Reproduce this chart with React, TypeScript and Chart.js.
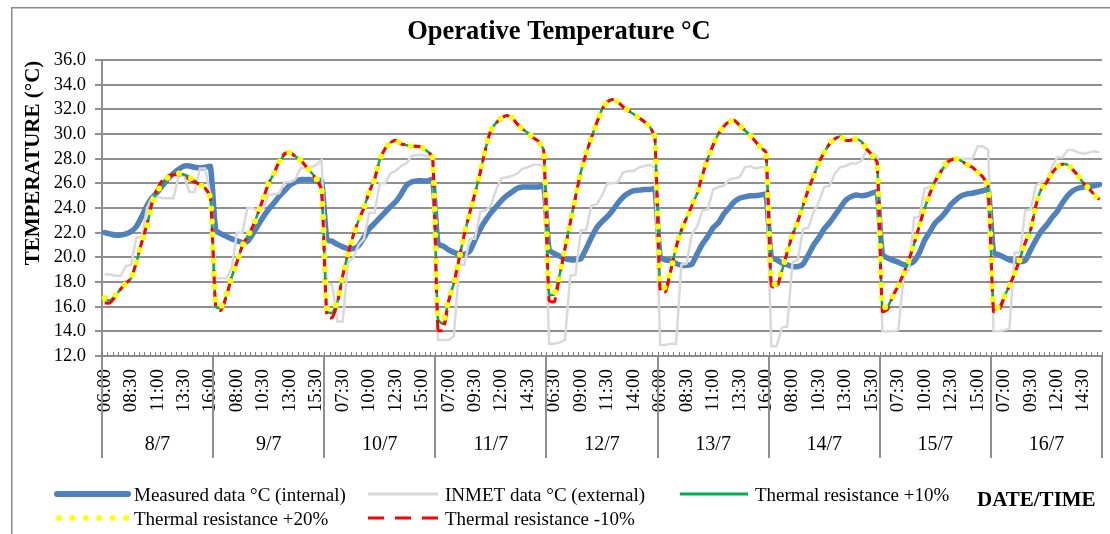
import React, { useEffect, useRef } from 'react';
import { Chart, registerables } from 'chart.js';

Chart.register(...registerables);

const DAYS = ['8/7', '9/7', '10/7', '11/7', '12/7', '13/7', '14/7', '15/7', '16/7'];
const TIMES = ['06:00', '06:30', '07:00', '07:30', '08:00', '08:30', '09:00', '09:30', '10:00', '10:30', '11:00',
  '11:30', '12:00', '12:30', '13:00', '13:30', '14:00', '14:30', '15:00', '15:30', '16:00'];
const Y_TICKS = [12, 14, 16, 18, 20, 22, 24, 26, 28, 30, 32, 34, 36];

const MEASURED = [
  22.0, 21.9, 21.8, 21.8, 21.9, 22.1, 22.5, 23.3, 24.2, 24.85, 25.3, 25.85, 26.4, 26.8, 27.15, 27.4, 27.4, 27.3, 27.25, 27.3, 27.35,
  22.2, 21.9, 21.7, 21.5, 21.35, 21.2, 21.3, 21.9, 22.6, 23.3, 23.9, 24.4, 24.95, 25.4, 25.85, 26.1, 26.3, 26.3, 26.3, 26.2, 26.2,
  21.45, 21.3, 21.05, 20.85, 20.7, 20.7, 20.95, 21.6, 22.3, 22.75, 23.2, 23.65, 24.1, 24.5, 25.1, 25.8, 26.1, 26.2, 26.2, 26.2, 26.3,
  21.1, 20.9, 20.6, 20.4, 20.25, 20.25, 20.5, 21.4, 22.3, 23.0, 23.6, 24.1, 24.6, 25.0, 25.3, 25.6, 25.7, 25.7, 25.7, 25.7, 25.8,
  20.6, 20.3, 20.1, 19.9, 19.8, 19.8, 19.9, 20.7, 21.6, 22.4, 22.9, 23.3, 23.8, 24.4, 24.9, 25.2, 25.4, 25.45, 25.5, 25.5, 25.55,
  20.0, 19.8, 19.7, 19.5, 19.35, 19.35, 19.45, 20.3, 21.1, 21.7, 22.4, 22.8, 23.5, 24.0, 24.5, 24.8, 24.9, 25.0, 25.0, 25.05, 25.1,
  20.0, 19.8, 19.55, 19.4, 19.25, 19.25, 19.45, 20.2, 21.0, 21.6, 22.3, 22.8, 23.4, 24.0, 24.6, 24.9, 25.05, 25.0, 25.05, 25.2, 25.3,
  20.2, 19.95, 19.75, 19.6, 19.4, 19.45, 19.7, 20.4, 21.4, 22.1, 22.8, 23.2, 23.7, 24.3, 24.7, 25.0, 25.15, 25.2, 25.3, 25.4, 25.5,
  20.4, 20.2, 20.0, 19.8, 19.7, 19.65, 19.75, 20.6, 21.4, 22.1, 22.6, 23.2, 23.7, 24.4, 25.0, 25.4, 25.6, 25.7, 25.75, 25.8, 25.9,
];

const INMET = [
  18.6, 18.6, 18.5, 18.5, 19.3, 19.4, 21.6, 21.6, 24.0, 24.9, 24.9, 24.8, 24.8, 24.8, 26.6, 26.6, 25.3, 25.3, 27.2, 27.2, 25.0,
  18.3, 18.3, 18.3, 19.1, 22.0, 22.0, 24.0, 24.0, 23.7, 24.0, 25.1, 25.1, 25.2, 26.1, 26.1, 26.3, 27.2, 27.3, 27.3, 27.5, 27.9,
  17.8, 17.8, 14.8, 14.8, 19.6, 20.0, 21.0, 21.5, 23.6, 23.6, 26.0, 26.0, 26.8, 27.0, 27.4, 27.6, 28.2, 28.3, 28.3, 28.2, 28.2,
  13.3, 13.3, 13.3, 13.6, 19.4, 19.4, 21.5, 21.5, 23.7, 23.8, 24.2, 25.5, 26.4, 26.5, 26.6, 26.8, 27.2, 27.3, 27.5, 27.5, 27.4,
  13.0, 13.0, 13.1, 13.3, 18.5, 18.6, 22.2, 22.2, 24.2, 24.3, 25.0, 26.0, 26.0, 26.1, 26.9, 27.0, 27.0, 27.3, 27.4, 27.5, 27.3,
  12.9, 12.9, 13.0, 13.0, 19.4, 19.5, 21.9, 22.5, 23.8, 23.9, 25.5, 25.7, 25.8, 26.3, 26.4, 26.5, 27.3, 27.4, 27.2, 27.3, 27.3,
  12.8, 12.8, 14.3, 14.4, 19.6, 19.8, 22.3, 22.4, 23.7, 24.5, 25.7, 25.8, 26.8, 27.3, 27.4, 27.6, 27.6, 27.8, 28.7, 28.5, 28.2,
  14.0, 14.0, 14.0, 14.1, 18.4, 19.0, 23.2, 23.3, 25.6, 25.7, 25.8, 27.1, 27.2, 28.0, 28.0, 28.0, 28.0, 28.0, 29.0, 29.0, 28.7,
  14.0, 14.0, 14.1, 14.2, 20.4, 20.4, 23.8, 23.9, 25.8, 26.1, 26.2, 27.3, 28.1, 28.1, 28.7, 28.7, 28.5, 28.4, 28.5, 28.6, 28.5,
];

const RES_PLUS10 = [
  16.6, 16.5, 16.9, 17.4, 17.9, 18.3, 19.6, 21.2, 22.6, 24.4, 25.4, 26.0, 26.5, 26.7, 26.8, 26.7, 26.5, 26.2, 25.9, 25.6, 24.8,
  16.0, 15.9, 16.9, 18.4, 19.6, 20.9, 21.7, 22.5, 23.6, 24.8, 26.0, 26.8, 27.7, 28.3, 28.5, 28.2, 27.9, 27.4, 26.9, 26.4, 25.5,
  15.6, 15.5, 16.4, 18.5, 20.3, 21.8, 23.0, 24.0, 25.3, 26.3, 27.9, 28.8, 29.3, 29.5, 29.2, 29.1, 29.0, 29.0, 28.9, 28.6, 28.1,
  15.0, 14.6, 16.5, 17.9, 19.9, 21.9, 23.6, 25.2, 26.9, 28.8, 30.3, 30.9, 31.3, 31.5, 31.3, 30.8, 30.4, 30.1, 29.7, 29.4, 28.6,
  17.0, 17.0, 18.6, 20.7, 22.8, 24.9, 26.9, 28.4, 29.7, 30.9, 32.0, 32.6, 32.8, 32.6, 32.2, 31.9, 31.6, 31.3, 31.0, 30.6, 29.7,
  17.5, 17.5, 19.0, 20.8, 22.2, 23.2, 24.2, 25.2, 26.7, 28.0, 29.1, 30.0, 30.6, 31.0, 31.1, 30.7, 30.3, 29.9, 29.4, 28.9, 28.5,
  17.9, 17.7, 18.9, 20.4, 21.8, 22.9, 24.2, 25.5, 26.6, 27.7, 28.5, 29.2, 29.6, 29.8, 29.5, 29.5, 29.6, 29.4, 28.8, 28.3, 27.7,
  15.8, 16.0, 16.9, 17.7, 18.7, 19.8, 21.1, 22.6, 24.0, 25.2, 26.2, 26.9, 27.6, 27.9, 28.0, 27.8, 27.5, 27.3, 26.9, 26.5, 25.7,
  15.8, 15.9, 16.8, 17.7, 18.7, 19.9, 21.2, 22.2, 24.2, 25.5, 26.05, 26.8, 27.3, 27.55, 27.5, 27.1, 26.6, 26.0, 25.6, 25.1, 24.7,
];

const RES_PLUS20 = [
  16.7, 16.6, 16.9, 17.4, 17.9, 18.3, 19.6, 21.2, 22.6, 24.4, 25.4, 26.0, 26.5, 26.7, 26.8, 26.7, 26.5, 26.2, 25.9, 25.6, 24.8,
  16.1, 16.0, 16.9, 18.4, 19.6, 20.9, 21.7, 22.5, 23.6, 24.8, 26.0, 26.8, 27.7, 28.3, 28.5, 28.2, 27.9, 27.4, 26.9, 26.4, 25.5,
  15.8, 15.7, 16.4, 18.5, 20.3, 21.8, 23.0, 24.0, 25.3, 26.3, 27.9, 28.8, 29.3, 29.5, 29.2, 29.1, 29.0, 29.0, 28.9, 28.6, 28.1,
  15.2, 14.9, 16.5, 17.9, 19.9, 21.9, 23.6, 25.2, 26.9, 28.8, 30.3, 30.9, 31.3, 31.5, 31.3, 30.8, 30.4, 30.1, 29.7, 29.4, 28.6,
  17.2, 17.1, 18.6, 20.7, 22.8, 24.9, 26.9, 28.4, 29.7, 30.9, 32.0, 32.6, 32.8, 32.6, 32.2, 31.9, 31.6, 31.3, 31.0, 30.6, 29.7,
  17.6, 17.6, 19.0, 20.8, 22.2, 23.2, 24.2, 25.2, 26.7, 28.0, 29.1, 30.0, 30.6, 31.0, 31.1, 30.7, 30.3, 29.9, 29.4, 28.9, 28.5,
  18.0, 17.8, 18.9, 20.4, 21.8, 22.9, 24.2, 25.5, 26.6, 27.7, 28.5, 29.2, 29.6, 29.8, 29.5, 29.5, 29.6, 29.4, 28.8, 28.3, 27.7,
  15.9, 16.1, 16.9, 17.7, 18.7, 19.8, 21.1, 22.6, 24.0, 25.2, 26.2, 26.9, 27.6, 27.9, 28.0, 27.8, 27.5, 27.3, 26.9, 26.5, 25.7,
  15.9, 16.0, 16.8, 17.7, 18.7, 19.9, 21.2, 22.2, 24.2, 25.5, 26.05, 26.8, 27.3, 27.55, 27.5, 27.1, 26.6, 26.0, 25.6, 25.1, 24.7,
];

const RES_MINUS10 = [
  16.3, 16.3, 16.8, 17.4, 17.9, 18.3, 19.6, 21.2, 22.7, 24.5, 25.6, 26.3, 26.6, 26.7, 26.7, 26.7, 26.3, 26.1, 25.9, 25.6, 24.8,
  16.0, 15.7, 16.8, 18.4, 19.6, 20.9, 21.7, 22.5, 23.6, 24.8, 26.0, 26.8, 27.8, 28.4, 28.5, 28.2, 27.9, 27.4, 26.9, 26.3, 25.5,
  15.2, 15.1, 16.3, 18.5, 20.3, 21.8, 23.0, 24.0, 25.3, 26.3, 27.9, 28.8, 29.3, 29.5, 29.2, 29.1, 29.0, 29.0, 28.9, 28.6, 28.1,
  14.1, 14.1, 16.4, 17.9, 19.9, 21.9, 23.6, 25.2, 26.9, 28.8, 30.3, 30.9, 31.3, 31.5, 31.3, 30.8, 30.4, 30.1, 29.7, 29.4, 28.6,
  16.5, 16.4, 18.5, 20.7, 22.8, 24.9, 26.9, 28.4, 29.7, 30.9, 32.0, 32.6, 32.8, 32.6, 32.2, 31.9, 31.6, 31.3, 31.0, 30.6, 29.7,
  17.2, 17.2, 18.9, 20.8, 22.2, 23.2, 24.2, 25.2, 26.7, 28.0, 29.1, 30.0, 30.6, 31.0, 31.1, 30.7, 30.3, 29.9, 29.4, 28.9, 28.5,
  17.7, 17.5, 18.9, 20.4, 21.8, 22.9, 24.2, 25.5, 26.6, 27.7, 28.5, 29.2, 29.6, 29.8, 29.5, 29.5, 29.6, 29.4, 28.8, 28.3, 27.7,
  15.6, 15.8, 16.9, 17.7, 18.7, 19.8, 21.1, 22.6, 24.0, 25.2, 26.2, 26.9, 27.6, 27.9, 28.0, 27.8, 27.5, 27.3, 26.9, 26.5, 25.7,
  15.6, 15.7, 16.7, 17.7, 18.7, 19.9, 21.2, 22.2, 24.2, 25.5, 26.05, 26.8, 27.3, 27.55, 27.5, 27.1, 26.6, 26.0, 25.6, 25.1, 24.7,
];

const CATEGORIES = DAYS.flatMap((d) => TIMES.map((t) => t));

const FONT = "'Liberation Serif', 'Times New Roman', serif";
const GRID = '#8f8f8f';

// legend layout: [dataset index, line start x, line end x, text x, line y, text baseline]
const LEGEND_SLOTS = [
  [0, 57, 128, 134, 494, 500.5],
  [1, 368, 438, 445, 494, 500.5],
  [2, 680, 748, 755, 494, 500.5],
  [3, 59, 127, 134, 518, 525],
  [4, 368, 438, 445, 518, 525],
];

const decorPlugin = {
  id: 'decor',
  beforeDraw(chart: any) {
    const ctx = chart.ctx;
    ctx.save();
    ctx.strokeStyle = '#8a8a8a';
    ctx.lineWidth = 1.5;
    ctx.beginPath();
    ctx.moveTo(11.75, 534);
    ctx.lineTo(11.75, 7.75);
    ctx.lineTo(1110, 7.75);
    ctx.stroke();
    ctx.restore();
  },
  afterDraw(chart: any) {
    const { ctx, chartArea } = chart;
    const xs = chart.scales.x;
    const x2 = chart.scales.x2;
    const n = CATEGORIES.length;
    const step = xs.getPixelForValue(1) - xs.getPixelForValue(0);
    const edge = (k: number) => xs.getPixelForValue(0) + (k - 0.5) * step;
    ctx.save();
    // minor tick marks on category boundaries
    ctx.strokeStyle = '#7f7f7f';
    ctx.lineWidth = 1;
    ctx.beginPath();
    for (let k = 0; k <= n; k++) {
      const px = Math.round(edge(k)) + 0.5;
      ctx.moveTo(px, chartArea.bottom - 4);
      ctx.lineTo(px, chartArea.bottom);
    }
    ctx.stroke();
    // day separators
    ctx.strokeStyle = GRID;
    ctx.lineWidth = 2;
    ctx.beginPath();
    for (let d = 0; d <= DAYS.length; d++) {
      const px = Math.round(edge(d * TIMES.length));
      ctx.moveTo(px, chartArea.bottom);
      ctx.lineTo(px, x2.bottom);
    }
    ctx.stroke();

    ctx.fillStyle = '#000';
    // chart title
    ctx.font = `bold 26.5px ${FONT}`;
    ctx.textAlign = 'center';
    ctx.textBaseline = 'alphabetic';
    ctx.fillText('Operative Temperature °C', 559, 39);
    // y axis title
    ctx.save();
    ctx.translate(38.5, 163);
    ctx.rotate(-Math.PI / 2);
    ctx.font = `bold 21px ${FONT}`;
    ctx.fillText('TEMPERATURE (°C)', 0, 0);
    ctx.restore();
    // x axis title
    ctx.font = `bold 21px ${FONT}`;
    ctx.textAlign = 'left';
    ctx.fillText('DATE/TIME', 977, 506);

    // legend
    ctx.font = `19px ${FONT}`;
    LEGEND_SLOTS.forEach(([di, x0, x1, tx, ly, tb]) => {
      const ds = chart.data.datasets[di];
      ctx.save();
      ctx.strokeStyle = ds.borderColor;
      ctx.lineWidth = ds.legendWidth;
      ctx.lineCap = ds.borderCapStyle || 'butt';
      ctx.setLineDash(ds.legendDash || []);
      ctx.beginPath();
      ctx.moveTo(x0, ly);
      ctx.lineTo(x1, ly);
      ctx.stroke();
      ctx.restore();
      ctx.fillStyle = '#000';
      ctx.textAlign = 'left';
      ctx.fillText(ds.label, tx, tb);
    });
    ctx.restore();
  },
};

export default function App() {
  const ref = useRef<HTMLCanvasElement | null>(null);

  useEffect(() => {
    if (!ref.current) return;
    Chart.defaults.font.family = FONT;
    Chart.defaults.color = '#000';
    const chart = new Chart(ref.current, {
      type: 'line',
      data: {
        labels: CATEGORIES,
        datasets: [
          {
            label: 'Measured data °C (internal)',
            data: MEASURED,
            borderColor: '#4f81bd',
            borderWidth: 5.5,
            legendWidth: 6,
            borderCapStyle: 'round',
            borderJoinStyle: 'round',
            pointRadius: 0,
            tension: 0.2,
            order: 5,
          },
          {
            label: 'INMET data °C (external)',
            data: INMET,
            borderColor: '#d9d9d9',
            borderWidth: 2.5,
            legendWidth: 3,
            pointRadius: 0,
            tension: 0,
            order: 4,
          },
          {
            label: 'Thermal resistance +10%',
            data: RES_PLUS10,
            borderColor: '#00b050',
            borderWidth: 2.5,
            legendWidth: 3,
            pointRadius: 0,
            tension: 0.2,
            order: 3,
          },
          {
            label: 'Thermal resistance +20%',
            data: RES_PLUS20,
            borderColor: '#ffff00',
            borderWidth: 6,
            legendWidth: 6,
            borderDash: [0, 13],
            legendDash: [0, 13.4],
            borderCapStyle: 'round',
            pointRadius: 0,
            tension: 0.2,
            order: 1,
          },
          {
            label: 'Thermal resistance -10%',
            data: RES_MINUS10,
            borderColor: '#ff0000',
            borderWidth: 3,
            legendWidth: 3,
            borderDash: [15, 6],
            legendDash: [16, 11],
            pointRadius: 0,
            tension: 0.2,
            order: 2,
          },
        ] as any,
      },
      options: {
        animation: false,
        responsive: false,
        maintainAspectRatio: false,
        layout: { padding: { top: 60, right: 8, bottom: 76, left: 0 } },
        plugins: {
          legend: { display: false },
          title: { display: false },
          tooltip: { enabled: false },
        },
        scales: {
          x: {
            type: 'category',
            offset: true,
            weight: 0,
            grid: { display: false, drawTicks: false },
            border: { display: true, color: GRID, width: 2 },
            ticks: {
              autoSkip: false,
              minRotation: 90,
              maxRotation: 90,
              padding: 13,
              color: '#000',
              font: { size: 19, family: FONT },
              callback: (_v: any, i: number) => (i % 5 === 0 ? CATEGORIES[i] : ''),
            },
            afterFit: (s: any) => {
              s.height = 68;
              s.paddingLeft = 0;
              s.paddingRight = 0;
            },
          },
          x2: {
            type: 'category',
            labels: DAYS,
            offset: true,
            position: 'bottom',
            weight: 1,
            grid: { display: false, drawTicks: false },
            border: { display: false },
            ticks: {
              autoSkip: false,
              maxRotation: 0,
              minRotation: 0,
              padding: 9,
              color: '#000',
              font: { size: 20, family: FONT },
            },
            afterFit: (s: any) => {
              s.height = 34;
              s.paddingLeft = 0;
              s.paddingRight = 0;
            },
          },
          y: {
            min: Y_TICKS[0],
            max: Y_TICKS[Y_TICKS.length - 1],
            afterBuildTicks: (s: any) => {
              s.ticks = Y_TICKS.map((v) => ({ value: v }));
            },
            grid: { color: GRID, lineWidth: 2, tickLength: 7, drawTicks: true },
            border: { display: true, color: GRID, width: 2 },
            ticks: {
              autoSkip: false,
              padding: 9,
              color: '#000',
              font: { size: 18.5, family: FONT },
              callback: (v: any) => Number(v).toFixed(1),
            },
            afterFit: (s: any) => {
              s.width = 102;
            },
          },
        },
      } as any,
      plugins: [decorPlugin],
    });
    return () => chart.destroy();
  }, []);

  return (
    <div style={{ position: 'fixed', left: 0, top: 0, width: 1110, height: 534, background: '#fff' }}>
      <canvas ref={ref} width={1110} height={534} style={{ width: 1110, height: 534, display: 'block' }} />
    </div>
  );
}
